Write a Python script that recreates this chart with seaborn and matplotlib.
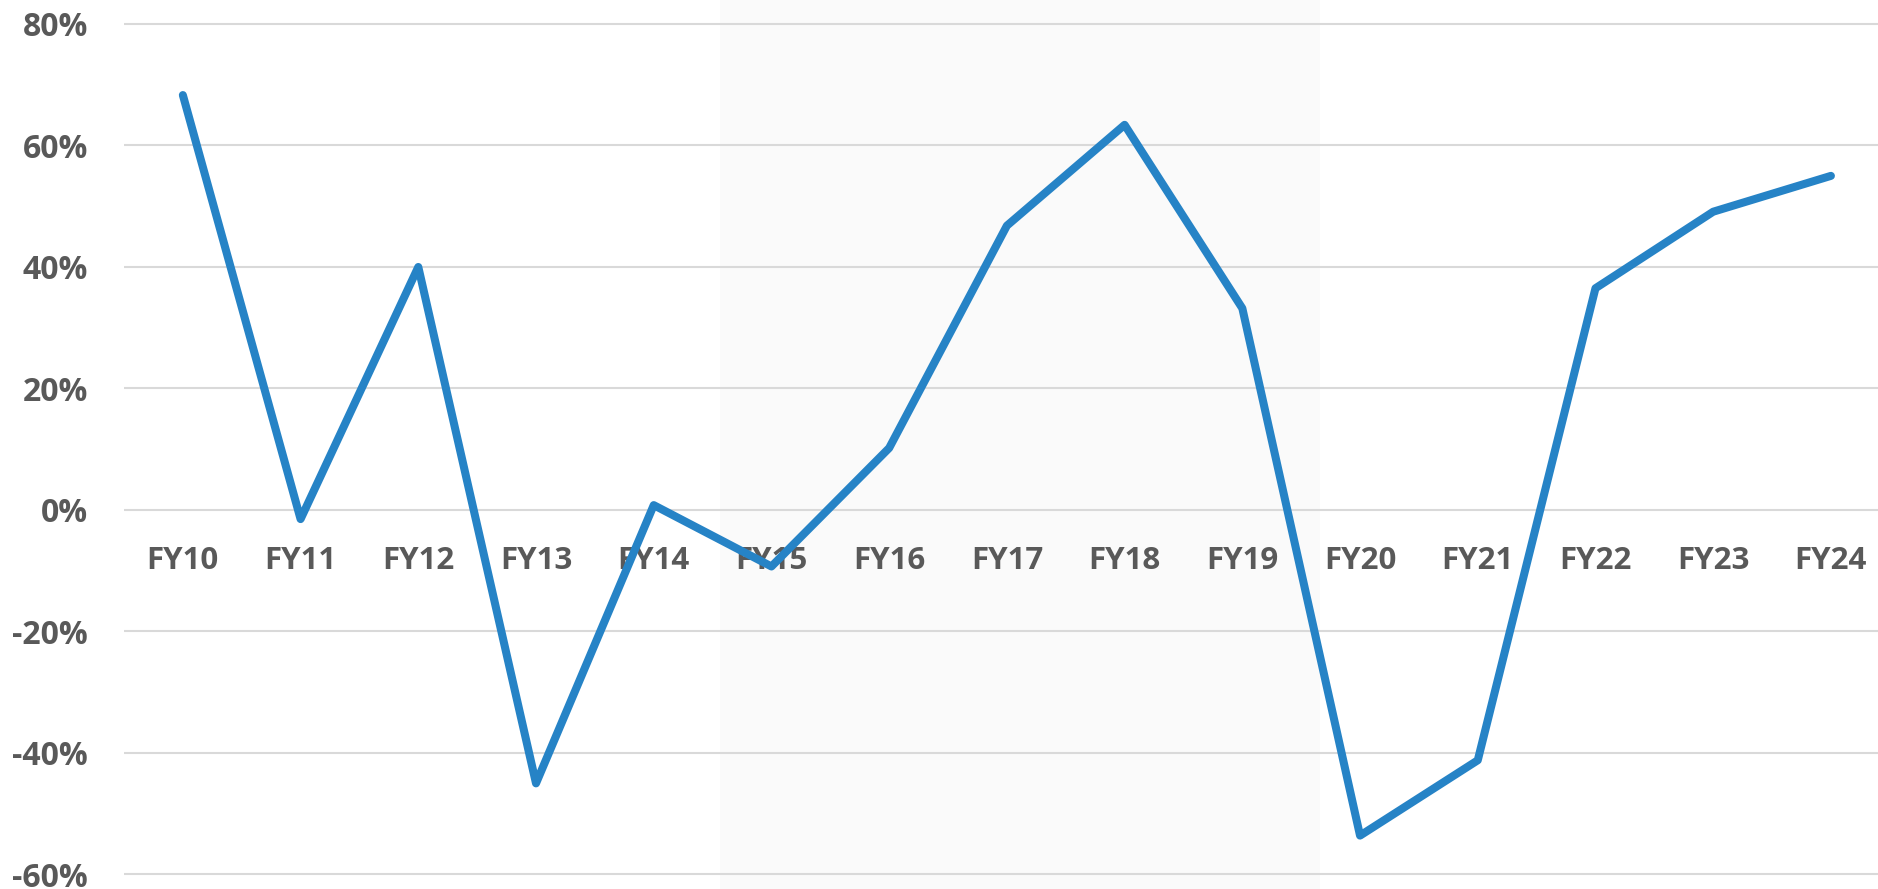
import matplotlib
matplotlib.use("Agg")
import matplotlib.pyplot as plt
from matplotlib.ticker import FuncFormatter, FixedLocator
import seaborn as sns
import pandas as pd

# Fiscal-year growth series (percent)
years = ["FY10", "FY11", "FY12", "FY13", "FY14", "FY15", "FY16", "FY17",
         "FY18", "FY19", "FY20", "FY21", "FY22", "FY23", "FY24"]
growth = [68.3, -1.5, 40.0, -45.0, 0.8, -9.3, 10.2, 46.8,
          63.4, 33.2, -53.6, -41.2, 36.5, 49.1, 55.0]
y_ticks = [-60, -40, -20, 0, 20, 40, 60, 80]

# Highlighted stretch of the timeline (category coordinates)
band_start, band_end = 4.56, 9.66

df = pd.DataFrame({"year": years, "growth": growth})

sns.set_theme(style="white")
plt.rcParams["font.family"] = ["Open Sans", "DejaVu Sans"]

W, H, DPI = 1878, 889, 100
fig = plt.figure(figsize=(W / DPI, H / DPI), dpi=DPI)
ax = fig.add_axes([124 / W, 0, 1 - 124 / W, 1])

ax.axvspan(band_start, band_end, color="#FAFAFA", zorder=0, lw=0)

sns.lineplot(data=df, x="year", y="growth", sort=False, ax=ax,
             color="#2683C6", linewidth=5.8, zorder=3,
             solid_capstyle="round", solid_joinstyle="round")

ax.set_xlim(-0.5, 14.40)
ax.set_ylim(-62.39, 83.95)

ax.yaxis.set_major_locator(FixedLocator(y_ticks))
ax.yaxis.set_major_formatter(FuncFormatter(lambda v, p: f"{v:.0f}%"))
ax.grid(axis="y", color="#D9D9D9", linewidth=1.5, zorder=1)
ax.grid(axis="x", visible=False)
ax.set_axisbelow(True)

for s in ax.spines.values():
    s.set_visible(False)
ax.spines["bottom"].set_position(("data", 0))

ax.tick_params(axis="y", length=0, pad=26, labelsize=23, labelcolor="#595959")
ax.tick_params(axis="x", length=0, pad=26, labelsize=22.5, labelcolor="#595959")
for lbl in ax.get_xticklabels() + ax.get_yticklabels():
    lbl.set_fontweight("bold")

ax.set_xlabel("")
ax.set_ylabel("")
ax.patch.set_alpha(0)

fig.savefig("out.png", dpi=DPI, facecolor="white")
